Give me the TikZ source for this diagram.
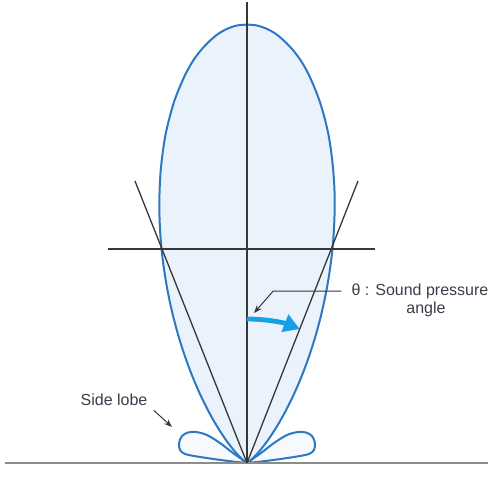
\documentclass[tikz,border=0pt]{standalone}
\usepackage{fontspec}
\usepackage{tikz}
\usetikzlibrary{arrows.meta,positioning,calc}
\newfontfamily\labelfont{Liberation Sans}
\definecolor{lobeblue}{RGB}{45,120,195}
\definecolor{lobefill}{RGB}{234,242,251}
\definecolor{swingblue}{RGB}{22,160,230}
\definecolor{axisgray}{RGB}{55,55,55}
\definecolor{groundgray}{RGB}{140,140,140}
\definecolor{labelgray}{RGB}{60,60,75}

\begin{document}
\begin{tikzpicture}[x=.5pt,y=.5pt,
  lobe/.style={draw=lobeblue,line width=1pt,fill=lobefill},
  sidelobe/.style={draw=lobeblue,line width=1pt,fill=lobefill!45},
  axis/.style={draw=axisgray,line width=.65pt},
  ground/.style={draw=groundgray,line width=.8pt},
  label/.style={font=\labelfont\fontsize{8}{9}\selectfont,text=labelgray,inner sep=1pt},
  leader/.style={-{Stealth[length=4pt,width=3pt]},draw=axisgray,line width=.5pt},
  swing/.style={-{Triangle[length=8pt,width=9pt]},draw=swingblue,line width=2.4pt}]

\path[use as bounding box] (-247,-37) rectangle (246,463);
% main lobe and side lobes
\draw[lobe] plot[domain=-76:76,samples=121,smooth] ({90-\x}:{439*pow(cos(\x),8.7)}) -- cycle;
\draw[sidelobe] plot[smooth] coordinates {(0,0) (-14,10) (-27,20) (-40,28) (-51,31) (-59,30.5) (-65,27) (-68,20) (-67,13) (-62,9) (-50,6.5) (-30,3.5) (-12,1.2) (0,0)};
\draw[sidelobe] plot[smooth] coordinates {(0,0) (14,10) (27,20) (40,28) (51,31) (59,30.5) (65,27) (68,20) (67,13) (62,9) (50,6.5) (30,3.5) (12,1.2) (0,0)};
% axes
\coordinate (apex) at (0,0);
\draw[ground] (-242,0) -- (241,0);
\draw[axis] (apex) -- (0,461);
\draw[axis] (-139,214) -- (128,214);
\draw[axis] (apex) -- (-112,282);
\draw[axis] (apex) -- (111,282);
% sound pressure angle
\draw[swing] (90:144) arc[start angle=90,end angle=68.5,radius=144];
\node[label,inner xsep=5pt] (thetalbl) at (173,172) {θ : Sound pressure};
\node[label] (anglelbl) at (179,154) {angle};
\coordinate (thetatip) at (7,150);
\draw[leader] (thetalbl.west) -- ++(-68,0) -- (thetatip);
% side lobe
\node[label] (sidelbl) at (-133,63) {Side lobe};
\coordinate (sidetip) at (-75,36);
\draw[leader] ($(sidelbl.south east)+(4,-2)$) -- (sidetip);

\end{tikzpicture}
\end{document}
